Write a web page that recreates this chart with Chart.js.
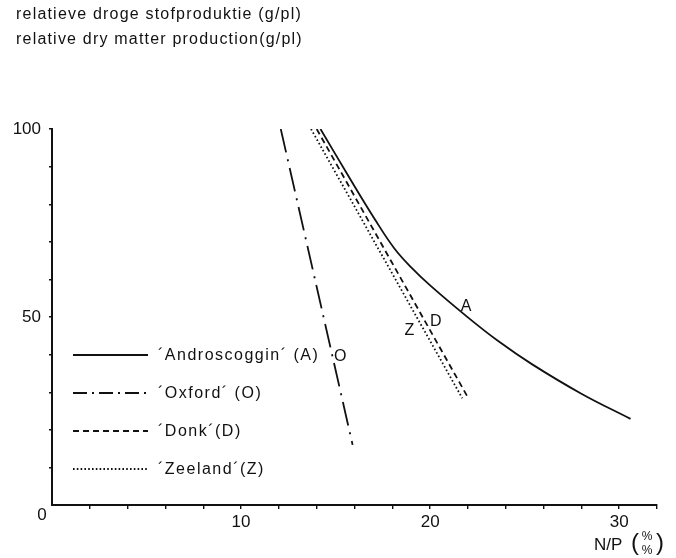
<!DOCTYPE html>
<html>
<head>
<meta charset="utf-8">
<script src="https://cdn.jsdelivr.net/npm/chart.js@4"></script>
<style>
  body { margin: 0; background: #fff; }
  canvas { display: block; }
</style>
</head>
<body>
<canvas id="chart" width="676" height="558"></canvas>
<script>
// values
const titleLines = ['relatieve droge stofproduktie (g/pl)', 'relative dry matter production(g/pl)'];
const seriesNames = ['´Androscoggin´ (A)', '´Oxford´ (O)', '´Donk´(D)', '´Zeeland´(Z)'];
const curveLetters = ['A', 'O', 'D', 'Z'];

const andX = [14.2, 15.7, 17.1, 18.1, 19.0, 20.0, 21.9, 23.6, 25.4, 28.0, 30.6];
const andY = [100, 87.3, 75.8, 68.3, 63.2, 58.4, 50.3, 43.6, 37.4, 29.6, 22.9];
const oxfX = [12.1, 15.9];
const oxfY = [100, 16];
const donkX = [14.0, 22.0];
const donkY = [100, 28.6];
const zeeX = [13.7, 21.7];
const zeeY = [100, 28.4];

// where the letters A, O, D, Z sit next to the curves (data units)
const letterX = [21.9, 15.25, 20.3, 18.9];
const letterY = [52.7, 39.4, 48.7, 46.4];

const xTickLabels = [10, 20, 30];
const yTickLabels = [50, 100];

const ink = '#111';

function pts(xs, ys) {
  return xs.map((x, i) => ({ x: x, y: ys[i] }));
}

const legendDash = [[], [14, 5, 2, 5], [6, 4], [1.6, 2.2]];

const extras = {
  id: 'extras',
  afterDraw(chart) {
    const ctx = chart.ctx;
    const xs = chart.scales.x, ys = chart.scales.y;
    ctx.save();
    ctx.fillStyle = ink;
    ctx.textBaseline = 'middle';

    // heading
    ctx.font = '16px "Liberation Sans", Arial, sans-serif';
    ctx.letterSpacing = '1.2px';
    ctx.textAlign = 'left';
    ctx.fillText(titleLines[0], 16, 15);
    ctx.fillText(titleLines[1], 16, 40);

    // legend inside the plot
    ctx.letterSpacing = '1.5px';
    chart.data.datasets.forEach((ds, i) => {
      const y = 355 + i * 38;
      ctx.beginPath();
      ctx.setLineDash(legendDash[i]);
      ctx.lineWidth = 1.8;
      ctx.strokeStyle = ink;
      ctx.moveTo(73, y);
      ctx.lineTo(148, y);
      ctx.stroke();
      ctx.setLineDash([]);
      ctx.fillText(seriesNames[i], 158, y + 1);
    });

    // curve letters
    ctx.font = '16px "Liberation Sans", Arial, sans-serif';
    ctx.letterSpacing = '0px';
    ctx.textAlign = 'center';
    curveLetters.forEach((t, i) => {
      ctx.fillText(t, xs.getPixelForValue(letterX[i]), ys.getPixelForValue(letterY[i]));
    });

    // origin label
    ctx.font = '17px "Liberation Sans", Arial, sans-serif';
    ctx.fillText('0', 42, 515);

    // axis unit N/P (%/%)
    ctx.font = '17px "Liberation Sans", Arial, sans-serif';
    ctx.textAlign = 'left';
    ctx.fillText('N/P', 594, 545);
    ctx.font = '24px "Liberation Sans", Arial, sans-serif';
    ctx.fillText('(', 631, 543);
    ctx.fillText(')', 656, 543);
    ctx.font = '12px "Liberation Sans", Arial, sans-serif';
    ctx.textAlign = 'center';
    ctx.fillText('%', 647, 537);
    ctx.fillText('%', 647, 551);
    ctx.restore();
  }
};

const tickFont = { family: '"Liberation Sans", Arial, sans-serif', size: 17 };

new Chart(document.getElementById('chart'), {
  type: 'line',
  data: {
    datasets: [
      { label: seriesNames[0], data: pts(andX, andY), borderDash: [], tension: 0.4 },
      { label: seriesNames[1], data: pts(oxfX, oxfY), borderDash: [24, 7, 2, 7] },
      { label: seriesNames[2], data: pts(donkX, donkY), borderDash: [6, 4] },
      { label: seriesNames[3], data: pts(zeeX, zeeY), borderDash: [1.6, 2.4] }
    ].map(ds => Object.assign({
      borderColor: ink,
      borderWidth: 1.8,
      pointRadius: 0,
      fill: false
    }, ds))
  },
  options: {
    responsive: false,
    animation: false,
    layout: { padding: { top: 129, right: 19, left: 0, bottom: 0 } },
    plugins: {
      legend: { display: false },
      tooltip: { enabled: false }
    },
    scales: {
      x: {
        type: 'linear',
        min: 0,
        max: 32,
        afterFit(scale) { scale.height = 53; },
        border: { display: true, color: ink, width: 2 },
        grid: {
          drawOnChartArea: false,
          drawTicks: true,
          tickLength: 4,
          color: ctx => ctx.tick && ctx.tick.value === 0 ? 'rgba(0,0,0,0)' : ink,
          lineWidth: 1.4
        },
        ticks: {
          stepSize: 2,
          autoSkip: false,
          maxRotation: 0,
          padding: 3,
          color: ink,
          font: tickFont,
          callback: v => xTickLabels.includes(v) ? String(v) : ''
        }
      },
      y: {
        min: 0,
        max: 100,
        afterFit(scale) { scale.width = 52; },
        border: { display: true, color: ink, width: 2 },
        grid: {
          drawOnChartArea: false,
          drawTicks: true,
          tickLength: 3,
          color: ctx => ctx.tick && ctx.tick.value === 0 ? 'rgba(0,0,0,0)' : ink,
          lineWidth: 1.4
        },
        ticks: {
          stepSize: 10,
          autoSkip: false,
          padding: 8,
          color: ink,
          font: tickFont,
          callback: v => yTickLabels.includes(v) ? String(v) : ''
        }
      }
    }
  },
  plugins: [extras]
});
</script>
</body>
</html>
